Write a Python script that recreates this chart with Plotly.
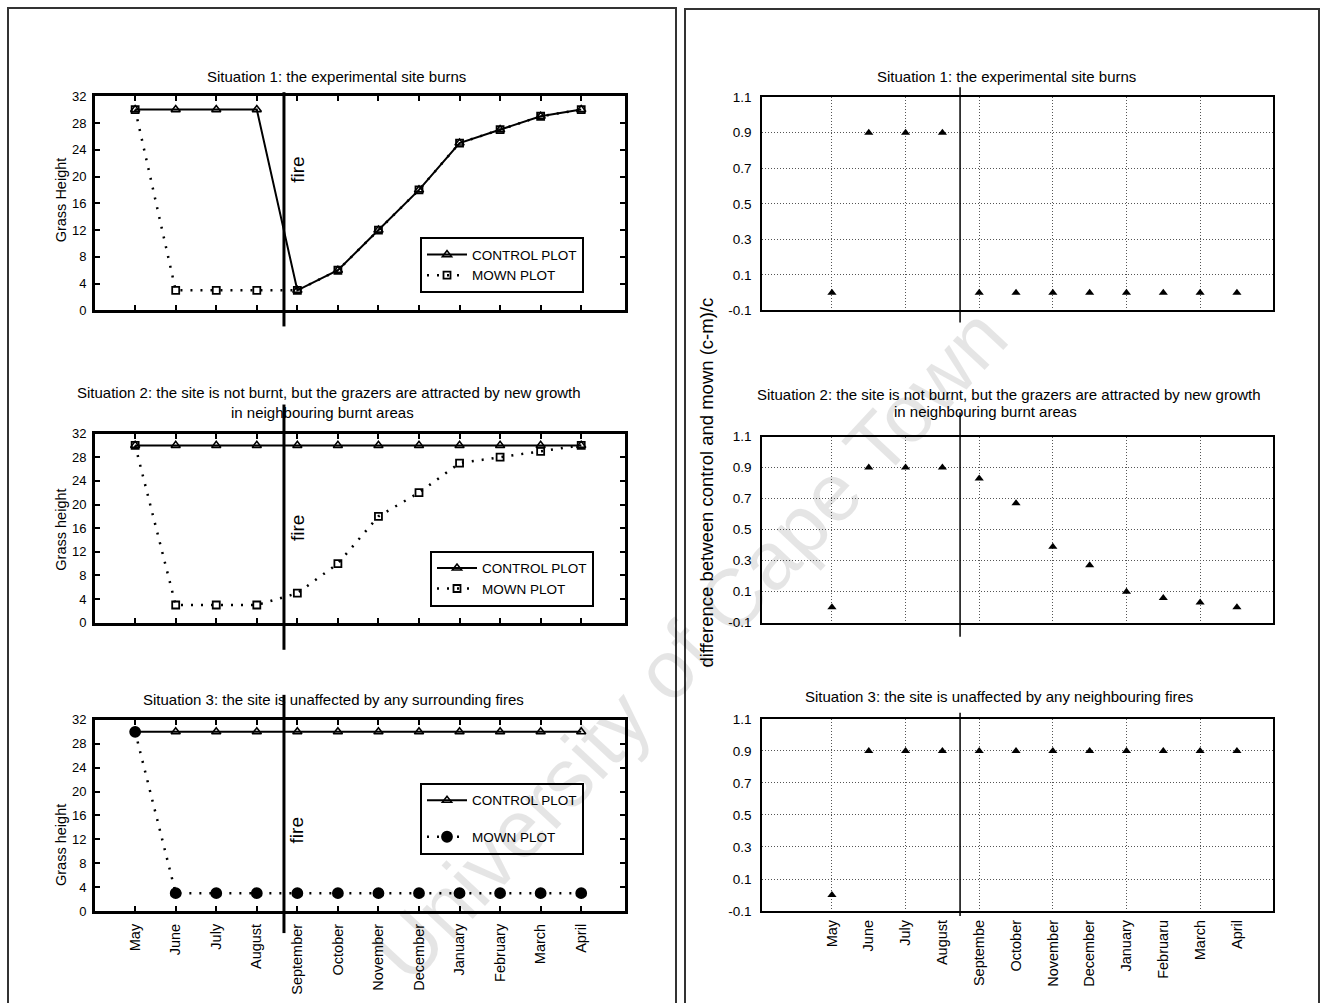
import plotly.graph_objects as go

W, H = 1329, 1003

# ---------------- data ----------------
MONTHS = ["May", "June", "July", "August", "September", "October",
          "November", "December", "January", "February", "March", "April"]
RIGHT_MONTH_LABELS = ["May", "June", "July", "August", "Septembe", "October",
                      "November", "December", "January", "Februaru", "March", "April"]
GRASS_TICKS = [0, 4, 8, 12, 16, 20, 24, 28, 32]
DIFF_TICKS = [-0.1, 0.1, 0.3, 0.5, 0.7, 0.9, 1.1]
DIFF_GRID_MONTHS = ["May", "July", "September", "November", "January", "March"]

S1_CONTROL = [30, 30, 30, 30, 3, 6, 12, 18, 25, 27, 29, 30]
S1_MOWN = [30, 3, 3, 3, 3, 6, 12, 18, 25, 27, 29, 30]
S2_CONTROL = [30, 30, 30, 30, 30, 30, 30, 30, 30, 30, 30, 30]
S2_MOWN = [30, 3, 3, 3, 5, 10, 18, 22, 27, 28, 29, 30]
S3_CONTROL = [30, 30, 30, 30, 30, 30, 30, 30, 30, 30, 30, 30]
S3_MOWN = [30, 3, 3, 3, 3, 3, 3, 3, 3, 3, 3, 3]

S1_DIFF = [0.0, 0.9, 0.9, 0.9, 0.0, 0.0, 0.0, 0.0, 0.0, 0.0, 0.0, 0.0]
S2_DIFF = [0.0, 0.9, 0.9, 0.9, 0.83, 0.67, 0.39, 0.27, 0.1, 0.06, 0.03, 0.0]
S3_DIFF = [0.0, 0.9, 0.9, 0.9, 0.9, 0.9, 0.9, 0.9, 0.9, 0.9, 0.9, 0.9]

FIRE_LEFT = 3.67   # fire happens between August and September
FIRE_RIGHT = 3.48

TITLES_LEFT = ["Situation 1: the experimental site burns",
               "Situation 2: the site is not burnt, but the grazers are attracted by new growth",
               "Situation 3: the site is unaffected by any surrounding fires"]
TITLE2_LINE2 = "in neighbouring burnt areas"
TITLES_RIGHT = ["Situation 1: the experimental site burns",
                "Situation 2: the site is not burnt, but the grazers are attracted by new growth",
                "Situation 3: the site is unaffected by any neighbouring fires"]
YTITLES_LEFT = ["Grass Height", "Grass height", "Grass height"]
YTITLE_RIGHT = "difference between control and mown (c-m)/c"
WATERMARK = "University of Cape Town"

# ---------------- layout helpers ----------------
FONT = "Liberation Sans, Arial, sans-serif"


def px(x):
    return x / W


def py(y):
    # vertical pixel position -> paper coordinate (small correction for page offset)
    yy = (y - 7.9) / 0.984
    return 1 - yy / H


fig = go.Figure()

left_specs = [
    dict(ctrl=S1_CONTROL, mown=S1_MOWN, top=97, bot=311, legend="legend", sym="square-open", msize=7,
         leg=(420, 238), fire=(93, 327), firetext=170, ytitle=200, title=77),
    dict(ctrl=S2_CONTROL, mown=S2_MOWN, top=434, bot=623, legend="legend2", sym="square-open", msize=7,
         leg=(430, 551), fire=(405, 650), firetext=528, ytitle=530, title=393),
    dict(ctrl=S3_CONTROL, mown=S3_MOWN, top=720, bot=911, legend="legend3", sym="circle", msize=10,
         leg=(420, 783), fire=(695, 933), firetext=830, ytitle=845, title=700),
]
right_specs = [
    dict(diff=S1_DIFF, top=98, bot=311, fire=(88, 323), title=77),
    dict(diff=S2_DIFF, top=437, bot=623, fire=(413, 637), title=395),
    dict(diff=S3_DIFF, top=719, bot=911, fire=(713, 916), title=697),
]
title_x_left = [205, 75, 141]
title_x_right = [875, 755, 803]
line2_center = [322, 985]

shapes = []
annotations = []
layout_axes = {}

LX = (95, 625)
LRANGE = [-0.99, 12.08]
RX = (762, 1273)
RRANGE = [-1.9, 11.98]
TFONT = 15

for i, s in enumerate(left_specs):
    n = i + 1
    xa = "x" if n == 1 else f"x{n}"
    ya = "y" if n == 1 else f"y{n}"
    grp3 = (n == 3)
    fig.add_trace(go.Scatter(
        x=MONTHS, y=s["ctrl"], mode="lines+markers", name="CONTROL PLOT",
        line=dict(color="black", width=2),
        marker=dict(symbol="triangle-up-open", size=8, color="black", line=dict(width=1.6, color="black")),
        xaxis=xa, yaxis=ya, legend=s["legend"], legendgroup=f"c{n}", hoverinfo="skip"))
    fig.add_trace(go.Scatter(
        x=MONTHS, y=s["mown"], mode="lines+markers", name="MOWN PLOT",
        line=dict(color="black", width=2.5, dash="2px,8px"),
        marker=dict(symbol=s["sym"], size=s["msize"], color="black", line=dict(width=1.8, color="black")),
        xaxis=xa, yaxis=ya, legend=s["legend"], legendgroup=f"m{n}", hoverinfo="skip"))

    kx = "xaxis" if n == 1 else f"xaxis{n}"
    ky = "yaxis" if n == 1 else f"yaxis{n}"
    layout_axes[kx] = dict(
        domain=[px(LX[0]), px(LX[1])], anchor=ya, type="category",
        categoryorder="array", categoryarray=MONTHS, range=LRANGE,
        showline=True, linewidth=3, linecolor="black", mirror="ticks",
        ticks="inside", ticklen=5, tickwidth=1.5, tickcolor="black",
        showgrid=False, zeroline=False,
        showticklabels=grp3, tickangle=-90,
        tickfont=dict(family=FONT, size=14.5, color="black"), ticklabelstandoff=4)
    layout_axes[ky] = dict(
        domain=[py(s["bot"]), py(s["top"])], anchor=xa, range=[0, 32],
        tickvals=GRASS_TICKS, showline=True, linewidth=3, linecolor="black", mirror="ticks",
        ticks="inside", ticklen=5, tickwidth=1.5, tickcolor="black",
        showgrid=False, zeroline=False,
        tickfont=dict(family=FONT, size=13, color="black"), ticklabelstandoff=3)

    leg_key = s["legend"]
    layout_axes[leg_key] = dict(
        x=px(s["leg"][0]), y=py(s["leg"][1]), xanchor="left", yanchor="top",
        bgcolor="white", bordercolor="black", borderwidth=2,
        font=dict(family=FONT, size=13.5, color="black"),
        tracegroupgap=(16 if grp3 else 0), itemwidth=40)

    shapes.append(dict(type="line", xref=xa, yref="paper", x0=FIRE_LEFT, x1=FIRE_LEFT,
                       y0=py(s["fire"][0]), y1=py(s["fire"][1]),
                       line=dict(color="black", width=3)))
    annotations.append(dict(text="fire", xref=xa, yref="paper", x=FIRE_LEFT, y=py(s["firetext"]),
                            textangle=-90, showarrow=False, xanchor="left", yanchor="middle", xshift=1,
                            font=dict(family=FONT, size=19, color="black")))
    annotations.append(dict(text=YTITLES_LEFT[i], xref="paper", yref="paper", x=px(61), y=py(s["ytitle"]),
                            textangle=-90, showarrow=False, xanchor="center", yanchor="middle",
                            font=dict(family=FONT, size=14.5, color="black")))
    annotations.append(dict(text=TITLES_LEFT[i], xref="paper", yref="paper", x=px(title_x_left[i]),
                            y=py(s["title"]), showarrow=False, xanchor="left", yanchor="middle",
                            font=dict(family=FONT, size=TFONT, color="black")))
    if n == 2:
        annotations.append(dict(text=TITLE2_LINE2, xref="paper", yref="paper", x=px(line2_center[0]),
                                y=py(413), showarrow=False, xanchor="center", yanchor="middle",
                                font=dict(family=FONT, size=TFONT, color="black")))

for i, s in enumerate(right_specs):
    n = i + 4
    xa, ya = f"x{n}", f"y{n}"
    fig.add_trace(go.Scatter(
        x=MONTHS, y=s["diff"], mode="markers", showlegend=False,
        marker=dict(symbol="triangle-up", size=8, color="black"),
        xaxis=xa, yaxis=ya, hoverinfo="skip"))
    layout_axes[f"xaxis{n}"] = dict(
        domain=[px(RX[0]), px(RX[1])], anchor=ya, type="category",
        categoryorder="array", categoryarray=MONTHS, range=RRANGE,
        tickvals=DIFF_GRID_MONTHS, showticklabels=False, ticks="",
        showgrid=True, gridcolor="#555555", griddash="1px,2px", gridwidth=1,
        showline=True, linewidth=1.5, linecolor="black", mirror=True, zeroline=False)
    layout_axes[f"yaxis{n}"] = dict(
        domain=[py(s["bot"]), py(s["top"])], anchor=xa, range=[-0.1, 1.1],
        tickvals=DIFF_TICKS, ticktext=[f"{v:.1f}" for v in DIFF_TICKS], ticks="",
        showgrid=True, gridcolor="#555555", griddash="1px,2px", gridwidth=1,
        showline=True, linewidth=1.5, linecolor="black", mirror=True, zeroline=False,
        tickfont=dict(family=FONT, size=13.5, color="black"), ticklabelstandoff=6)
    shapes.append(dict(type="line", xref=xa, yref="paper", x0=FIRE_RIGHT, x1=FIRE_RIGHT,
                       y0=py(s["fire"][0]), y1=py(s["fire"][1]),
                       line=dict(color="black", width=1.5)))
    annotations.append(dict(text=TITLES_RIGHT[i], xref="paper", yref="paper", x=px(title_x_right[i]),
                            y=py(s["title"]), showarrow=False, xanchor="left", yanchor="middle",
                            font=dict(family=FONT, size=TFONT, color="black")))
    if n == 5:
        annotations.append(dict(text=TITLE2_LINE2, xref="paper", yref="paper", x=px(line2_center[1]),
                                y=py(412), showarrow=False, xanchor="center", yanchor="middle",
                                font=dict(family=FONT, size=TFONT, color="black")))

# month labels for the bottom-right panel (grid lines only every second month)
fig.add_trace(go.Scatter(x=MONTHS, y=S3_DIFF, mode="markers", showlegend=False,
                         marker=dict(opacity=0), xaxis="x7", yaxis="y6", hoverinfo="skip"))
layout_axes["xaxis7"] = dict(
    overlaying="x6", anchor="y6", type="category", categoryorder="array", categoryarray=MONTHS,
    range=RRANGE, tickvals=MONTHS, ticktext=RIGHT_MONTH_LABELS, tickangle=-90,
    showgrid=False, showline=False, ticks="", zeroline=False,
    tickfont=dict(family=FONT, size=14.5, color="black"), ticklabelstandoff=5)

annotations.append(dict(text=YTITLE_RIGHT, xref="paper", yref="paper", x=px(707), y=py(483),
                        textangle=-90, showarrow=False, xanchor="center", yanchor="middle",
                        font=dict(family=FONT, size=18.5, color="black")))
annotations.append(dict(text=WATERMARK, xref="paper", yref="paper", x=px(690), y=py(645),
                        textangle=-47, showarrow=False, xanchor="center", yanchor="middle",
                        font=dict(family=FONT, size=82, color="rgba(0,0,0,0.1)")))

# panel frames
shapes.append(dict(type="rect", xref="paper", yref="paper", x0=px(8), x1=px(676), y0=py(9), y1=py(1040),
                   line=dict(color="#333333", width=2), layer="below"))
shapes.append(dict(type="rect", xref="paper", yref="paper", x0=px(685), x1=px(1319), y0=py(10), y1=py(1040),
                   line=dict(color="#333333", width=2), layer="below"))

fig.update_layout(
    width=W, height=H, margin=dict(l=0, r=0, t=0, b=0),
    paper_bgcolor="white", plot_bgcolor="white",
    font=dict(family=FONT, color="black"),
    shapes=shapes, annotations=annotations, **layout_axes)

fig.write_html("out.html")
